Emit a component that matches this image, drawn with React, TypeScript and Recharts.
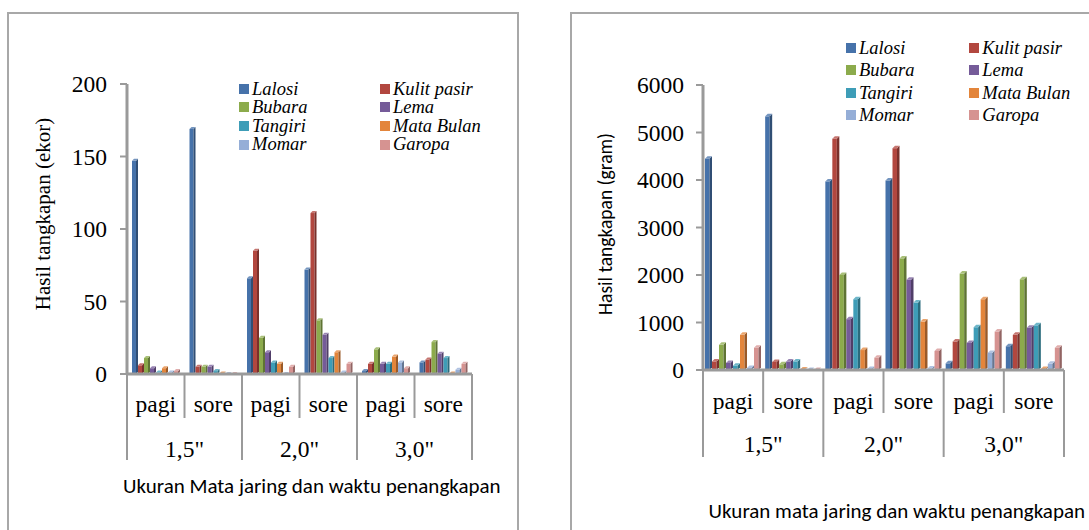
import { BarChart, Bar, XAxis, YAxis, Legend } from "recharts";

// kategori sumbu X: waktu penangkapan di dalam ukuran mata jaring
const waktu = ["pagi", "sore", "pagi", "sore", "pagi", "sore"];
const ukuran = ['1,5"', '1,5"', '2,0"', '2,0"', '3,0"', '3,0"'];

const jenisIkan = ["Lalosi", "Kulit pasir", "Bubara", "Lema", "Tangiri", "Mata Bulan", "Momar", "Garopa"];
const warna = ["#4672aa", "#b2473f", "#8cab4c", "#755b99", "#3e9db7", "#e3853b", "#95aed7", "#d69391"];

// hasil tangkapan (ekor)
const lalosiEkor = [147, 169, 66, 72, 2, 8];
const kulitPasirEkor = [6, 5, 85, 111, 7, 10];
const bubaraEkor = [11, 5, 25, 37, 17, 22];
const lemaEkor = [4, 5, 15, 27, 7, 14];
const tangiriEkor = [1, 2, 8, 11, 7, 11];
const mataBulanEkor = [4, 0.3, 7, 15, 12, 0.3];
const momarEkor = [1, 0, 0, 1, 8, 3];
const garopaEkor = [2, 0, 5, 7, 4, 7];
const ticksEkor = [0, 50, 100, 150, 200];

// hasil tangkapan (gram)
const lalosiGram = [4450, 5340, 3970, 3990, 140, 500];
const kulitPasirGram = [180, 170, 4870, 4670, 600, 740];
const bubaraGram = [530, 120, 2000, 2350, 2030, 1910];
const lemaGram = [150, 180, 1070, 1900, 570, 890];
const tangiriGram = [90, 180, 1490, 1420, 900, 940];
const mataBulanGram = [740, 10, 420, 1020, 1490, 20];
const momarGram = [40, 0, 20, 30, 360, 130];
const garopaGram = [470, 0, 260, 400, 810, 470];
const ticksGram = [0, 1000, 2000, 3000, 4000, 5000, 6000];

const keys = ["k0", "k1", "k2", "k3", "k4", "k5", "k6", "k7"];

function buildRows(series: number[][]) {
  return waktu.map((w, i) => {
    const row: Record<string, any> = { waktu: w, ukuran: ukuran[i] };
    series.forEach((s, j) => (row[keys[j]] = s[i]));
    return row;
  });
}

const dataEkor = buildRows([lalosiEkor, kulitPasirEkor, bubaraEkor, lemaEkor, tangiriEkor, mataBulanEkor, momarEkor, garopaEkor]);
const dataGram = buildRows([lalosiGram, kulitPasirGram, bubaraGram, lemaGram, tangiriGram, mataBulanGram, momarGram, garopaGram]);

const SERIF = '"Liberation Serif", serif';
const SANS = '"Carlito", sans-serif';
const AXIS = "#9a9a9a";

function shade(hex: string, f: number) {
  const n = parseInt(hex.slice(1), 16);
  const c = [(n >> 16) & 255, (n >> 8) & 255, n & 255].map((v) =>
    Math.max(0, Math.min(255, Math.round(f < 1 ? v * f : v + (255 - v) * (f - 1))))
  );
  return `rgb(${c[0]},${c[1]},${c[2]})`;
}

// kolom semu-3D: muka depan, sisi kanan gelap, tutup atas terang
function makeColumn(depth: number) {
  return (props: any) => {
    const { x, y, width, height, fill } = props;
    if (x == null || y == null || !isFinite(height)) return <g />;
    const d = depth;
    const w = Math.max(width, d + 1);
    const h = Math.max(height, 0);
    const fx = x + w - d;
    return (
      <g>
        <rect x={x} y={y} width={w - d} height={h} fill={fill} />
        <polygon points={`${fx},${y} ${x + w},${y - d} ${x + w},${y + h - d} ${fx},${y + h}`} fill={shade(fill, 0.68)} />
        <polygon points={`${x},${y} ${x + d},${y - d} ${x + w},${y - d} ${fx},${y}`} fill={shade(fill, 1.25)} />
      </g>
    );
  };
}

type Geo = { innerTick: number; groupTick: number; labelDy: number; groupDy: number };

// label dua tingkat: waktu (pagi/sore) lalu ukuran mata jaring, dengan garis pemisah
function makeTick(g: Geo, count: number) {
  return (props: any) => {
    const { x, y, payload } = props;
    const half = payload.offset ?? 0;
    const i = payload.index;
    const left = x - half;
    const right = x + half;
    const txt = { fontFamily: SERIF };
    return (
      <g>
        <line x1={left} y1={y} x2={left} y2={y + (i % 2 === 0 ? g.groupTick : g.innerTick)} stroke={AXIS} strokeWidth={2} />
        {i === count - 1 && <line x1={right} y1={y} x2={right} y2={y + g.groupTick} stroke={AXIS} strokeWidth={2} />}
        <text x={x} y={y + g.labelDy} textAnchor="middle" dominantBaseline="central" style={txt} fontSize={23.5} fill="#000">
          {payload.value}
        </text>
        {i % 2 === 1 && (
          <text x={left} y={y + g.groupDy} textAnchor="middle" dominantBaseline="central" style={txt} fontSize={23.5} fill="#000">
            {ukuran[i]}
          </text>
        )}
      </g>
    );
  };
}

function LegendGrid({ rowGap, colGap }: { rowGap: number; colGap: number }) {
  return (
    <div
      style={{
        display: "grid",
        gridTemplateColumns: `${colGap}px auto`,
        gridAutoRows: `${rowGap}px`,
        fontFamily: SERIF,
        fontStyle: "italic",
        fontSize: 18.5,
        lineHeight: `${rowGap}px`,
        color: "#000",
        whiteSpace: "nowrap",
      }}
    >
      {jenisIkan.map((nama, i) => (
        <div key={nama} style={{ display: "flex", alignItems: "center" }}>
          <span style={{ width: 10, height: 10, background: warna[i], marginRight: 3, display: "inline-block" }} />
          {nama}
        </div>
      ))}
    </div>
  );
}

type PanelProps = {
  data: Record<string, any>[];
  left: number;
  width: number;
  yMax: number;
  yTicks: number[];
  yAxisWidth: number;
  tickMargin: number;
  margin: { top: number; right: number; bottom: number; left: number };
  gap: number;
  depth: number;
  geo: Geo;
  legend: { left: number; top: number; rowGap: number; colGap: number };
  yTitle: { text: string; x: number; y: number; font: string; size: number };
  xTitle: { text: string; x: number; y: number };
};

function Panel(p: PanelProps) {
  const column = makeColumn(p.depth);
  return (
    <div style={{ position: "absolute", left: p.left, top: 0 }}>
      <BarChart width={p.width} height={530} data={p.data} margin={p.margin} barCategoryGap={p.gap} barGap={0}>
        <XAxis
          dataKey="waktu"
          height={100}
          interval={0}
          tickLine={false}
          tickSize={0}
          tickMargin={0}
          axisLine={{ stroke: AXIS, strokeWidth: 3 }}
          tick={makeTick(p.geo, p.data.length)}
          label={{
            content: () => (
              <text x={p.xTitle.x} y={p.xTitle.y} dominantBaseline="central" style={{ fontFamily: SANS }} fontSize={21} fill="#000">
                {p.xTitle.text}
              </text>
            ),
          }}
        />
        <YAxis
          domain={[0, p.yMax]}
          ticks={p.yTicks}
          width={p.yAxisWidth}
          tickSize={7}
          tickMargin={p.tickMargin}
          tickLine={{ stroke: AXIS, strokeWidth: 2 }}
          axisLine={{ stroke: AXIS, strokeWidth: 3 }}
          tick={{ style: { fontFamily: SERIF }, fontSize: 23.5, fill: "#000" }}
          label={{
            content: () => (
              <text
                transform={`translate(${p.yTitle.x},${p.yTitle.y}) rotate(-90)`}
                textAnchor="middle"
                dominantBaseline="central"
                style={{ fontFamily: p.yTitle.font }}
                fontSize={p.yTitle.size}
                fill="#000"
              >
                {p.yTitle.text}
              </text>
            ),
          }}
        />
        <Legend
          layout="vertical"
          align="center"
          verticalAlign="middle"
          wrapperStyle={{ left: p.legend.left, top: p.legend.top }}
          content={() => <LegendGrid rowGap={p.legend.rowGap} colGap={p.legend.colGap} />}
        />
        {jenisIkan.map((nama, i) => (
          <Bar key={nama} dataKey={keys[i]} name={nama} fill={warna[i]} shape={column} isAnimationActive={false} />
        ))}
      </BarChart>
    </div>
  );
}

export default function App() {
  return (
    <div style={{ position: "fixed", left: 0, top: 0, width: 1089, height: 530, overflow: "hidden", background: "#fff" }}>
      <div style={{ position: "absolute", left: 7, top: 12, width: 512, height: 540, border: "2px solid #a8a8a8", boxSizing: "border-box" }} />
      <div style={{ position: "absolute", left: 570, top: 12, width: 560, height: 540, border: "2px solid #a8a8a8", boxSizing: "border-box" }} />
      <Panel
        data={dataEkor}
        left={0}
        width={540}
        yMax={200}
        yTicks={ticksEkor}
        yAxisWidth={127}
        tickMargin={13}
        margin={{ top: 84, right: 68, bottom: 56, left: 0 }}
        gap={5}
        depth={2}
        geo={{ innerTick: 44, groupTick: 86, labelDy: 30, groupDy: 75 }}
        legend={{ left: 239, top: 79.6, rowGap: 18.6, colGap: 141 }}
        yTitle={{ text: "Hasil tangkapan (ekor)", x: 43, y: 214, font: SERIF, size: 21 }}
        xTitle={{ text: "Ukuran Mata jaring dan waktu penangkapan", x: 123, y: 486 }}
      />
      <Panel
        data={dataGram}
        left={560}
        width={529}
        yMax={6000}
        yTicks={ticksGram}
        yAxisWidth={143}
        tickMargin={12}
        margin={{ top: 85, right: 25, bottom: 60, left: 0 }}
        gap={2}
        depth={2.5}
        geo={{ innerTick: 43, groupTick: 87, labelDy: 31, groupDy: 74 }}
        legend={{ left: 286, top: 37.2, rowGap: 22.2, colGap: 123.3 }}
        yTitle={{ text: "Hasil tangkapan (gram)", x: 45, y: 224, font: SANS, size: 19.5 }}
        xTitle={{ text: "Ukuran mata jaring dan waktu penangkapan", x: 148.6, y: 510.6 }}
      />
    </div>
  );
}
